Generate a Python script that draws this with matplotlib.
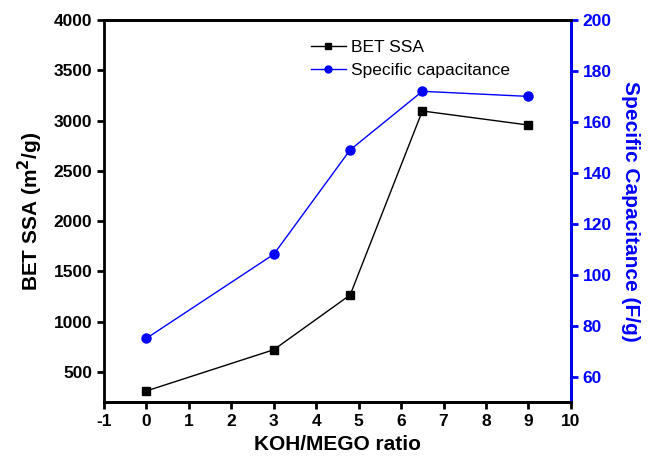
import matplotlib.pyplot as plt
from matplotlib.lines import Line2D

plt.rcParams['font.family'] = ['Liberation Sans', 'DejaVu Sans']
plt.rcParams['axes.unicode_minus'] = False

# KOH/MEGO ratio
ratio = [0, 3, 4.8, 6.5, 9]
bet_ssa = [310, 720, 1265, 3095, 2955]          # m2/g
capacitance = [75, 108, 149, 172, 170]          # F/g

x_ticks = list(range(-1, 11))
left_ticks = [500, 1000, 1500, 2000, 2500, 3000, 3500, 4000]
right_ticks = [60, 80, 100, 120, 140, 160, 180, 200]

fig = plt.figure(figsize=(6.48, 4.58), dpi=100)
ax = fig.add_axes([0.1605, 0.1223, 0.7205, 0.834])
ax2 = ax.twinx()

ax.plot(ratio, bet_ssa, color='black', lw=1, marker='s', ms=5.5)
ax2.plot(ratio, capacitance, color='blue', lw=1, marker='o', ms=6.5)

ax.set_xlim(-1, 10)
ax.set_ylim(200, 4000)
ax2.set_ylim(50, 200)
ax.set_xticks(x_ticks)
ax.set_yticks(left_ticks)
ax2.set_yticks(right_ticks)

for sp in ax.spines.values():
    sp.set_linewidth(2)
for sp in ax2.spines.values():
    sp.set_linewidth(2)
ax2.spines['right'].set_color('blue')
ax2.spines['left'].set_visible(False)

ax.tick_params(axis='both', direction='out', width=2, length=5, labelsize=12.5)
ax.tick_params(axis='x', pad=4)
ax2.tick_params(axis='y', direction='out', width=2, length=5, labelsize=12.5,
                color='blue', labelcolor='blue')
for lab in ax.get_xticklabels() + ax.get_yticklabels() + ax2.get_yticklabels():
    lab.set_fontweight('bold')

ax.set_xlabel('KOH/MEGO ratio', fontsize=15, fontweight='bold', labelpad=4)
ax.set_ylabel('BET SSA (m$^\\mathbf{2}$/g)', fontsize=15, fontweight='bold', labelpad=6)
ax2.set_ylabel('Specific Capacitance (F/g)', fontsize=15, fontweight='bold',
               color='blue', rotation=270, labelpad=20)

handles = [Line2D([], [], color='black', lw=1, marker='s', ms=4),
           Line2D([], [], color='blue', lw=1, marker='o', ms=5)]
ax.legend(handles, ['BET SSA', 'Specific capacitance'], loc='upper left',
          bbox_to_anchor=(0.41, 0.99), frameon=False, fontsize=12.5,
          handlelength=2.0, handletextpad=0.3, labelspacing=0.45)

fig.savefig('out.png', dpi=100)
